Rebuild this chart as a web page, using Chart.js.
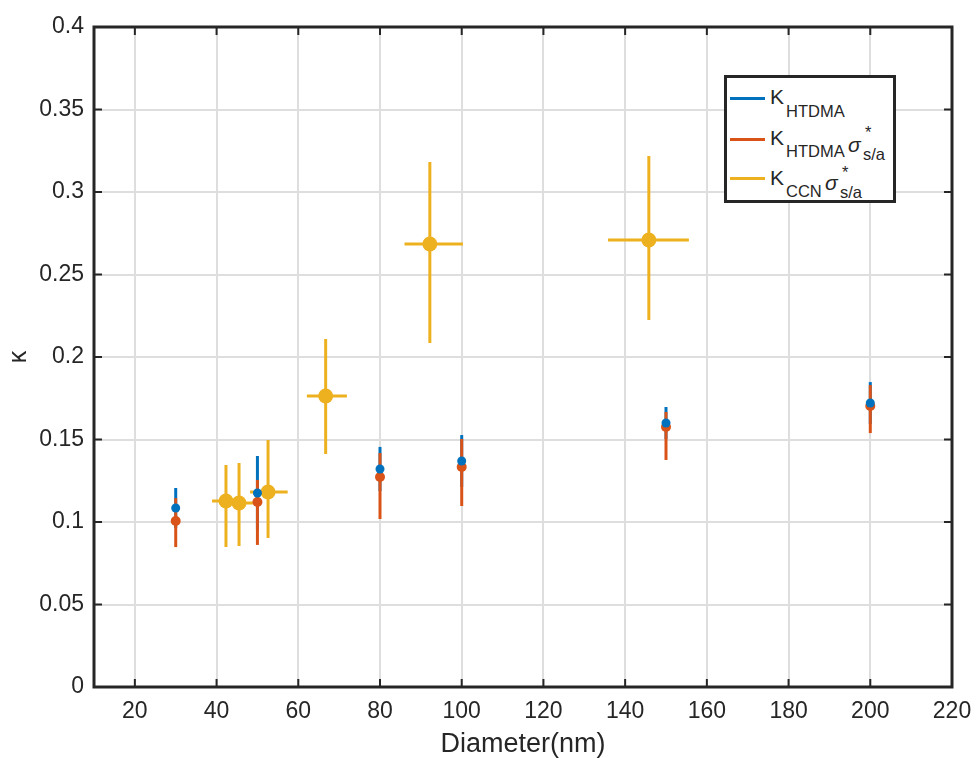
<!DOCTYPE html>
<html>
<head>
<meta charset="utf-8">
<script src="https://cdn.jsdelivr.net/npm/chart.js@4.4.0/dist/chart.umd.min.js"></script>
<style>
    html, body { margin: 0; padding: 0; background: #fff; }
    #wrap { position: relative; width: 976px; height: 758px; font-family: "Liberation Sans", Arial, sans-serif; color: #262626; }
    #legend-box { position: absolute; left: 724px; top: 75px; width: 172px; height: 128px; box-sizing: border-box; border: 3px solid #262626; background: #fff; }
    .lg { position: absolute; line-height: 1; white-space: nowrap; }
    .big { font-size: 21px; }
    .small { font-size: 16.5px; }
    .it { font-style: italic; }
    .swatch { position: absolute; left: 730px; width: 35px; height: 3px; }
</style>
</head>
<body>
<div id="wrap">
    <canvas id="chart" width="976" height="758"></canvas>
    <div id="legend-box"></div>
    <div class="swatch" style="top:97px;background:#0072BD"></div>
    <div class="swatch" style="top:138px;background:#D95319"></div>
    <div class="swatch" style="top:177px;background:#EDB120"></div>

    <span class="lg big" style="left:770px;top:86px">K</span>
    <span class="lg small" style="left:786px;top:103px">HTDMA</span>

    <span class="lg big" style="left:770px;top:127px">K</span>
    <span class="lg small" style="left:786px;top:143px">HTDMA</span>
    <span class="lg big it" style="left:848px;top:134px">σ</span>
    <span class="lg small" style="left:865px;top:124px">*</span>
    <span class="lg small" style="left:863px;top:146px">s/a</span>

    <span class="lg big" style="left:770px;top:167px">K</span>
    <span class="lg small" style="left:786px;top:183px">CCN</span>
    <span class="lg big it" style="left:825px;top:172px">σ</span>
    <span class="lg small" style="left:842px;top:164px">*</span>
    <span class="lg small" style="left:840px;top:184px">s/a</span>
</div>
<script>
// diameters (nm) of the HTDMA measurements
const diameters = [30, 50, 80, 100, 150, 200]

// K_HTDMA
const kHtdma = [0.1085, 0.1176, 0.1321, 0.1370, 0.1600, 0.1721]
const kHtdmaHigh = [0.1206, 0.1400, 0.1455, 0.1527, 0.1697, 0.1848]
const kHtdmaLow = [0.0964, 0.0952, 0.1187, 0.1213, 0.1503, 0.1594]

// K_HTDMA sigma*
const kSigma = [0.1006, 0.1121, 0.1273, 0.1333, 0.1576, 0.1703]
const kSigmaHigh = [0.1145, 0.1255, 0.1418, 0.1503, 0.1667, 0.1830]
const kSigmaLow = [0.0848, 0.0861, 0.1018, 0.1097, 0.1376, 0.1539]

// K_CCN sigma*
const ccnDiam = [42.3, 45.5, 52.6, 66.7, 92.2, 145.8]
const ccnDiamLow = [38.9, 42.1, 48.2, 62.1, 86.0, 135.8]
const ccnDiamHigh = [45.7, 48.9, 57.4, 71.9, 100.3, 155.6]
const kCcn = [0.1127, 0.1115, 0.1182, 0.1764, 0.2685, 0.2709]
const kCcnHigh = [0.1345, 0.1358, 0.1497, 0.2109, 0.3182, 0.3218]
const kCcnLow = [0.0848, 0.0855, 0.0903, 0.1412, 0.2085, 0.2224]

const xTicks = [20, 40, 60, 80, 100, 120, 140, 160, 180, 200, 220]
const yTicks = [0, 0.05, 0.1, 0.15, 0.2, 0.25, 0.3, 0.35, 0.4]
const yTickLabels = ["0", "0.05", "0.1", "0.15", "0.2", "0.25", "0.3", "0.35", "0.4"]

const axisColor = "#262626"
const fontFamily = "'Liberation Sans', Arial, sans-serif"

const toPoints = (xs, ys) => xs.map((x, i) => ({ x: x, y: ys[i] }))

// vertical / horizontal error bars, drawn under the markers
const errorBars = {
    id: "errorBars",
    beforeDatasetsDraw(chart) {
        const ctx = chart.ctx
        const xs = chart.scales.x
        const ys = chart.scales.y
        ctx.save()
        chart.data.datasets.forEach(ds => {
            ctx.strokeStyle = ds.backgroundColor
            ctx.lineWidth = 3
            ctx.lineCap = "butt"
            ds.data.forEach((p, i) => {
                const px = xs.getPixelForValue(p.x)
                const py = ys.getPixelForValue(p.y)
                ctx.beginPath()
                ctx.moveTo(px, ys.getPixelForValue(ds.errLow[i]))
                ctx.lineTo(px, ys.getPixelForValue(ds.errHigh[i]))
                if (ds.xLow) {
                    ctx.moveTo(xs.getPixelForValue(ds.xLow[i]), py)
                    ctx.lineTo(xs.getPixelForValue(ds.xHigh[i]), py)
                }
                ctx.stroke()
            })
        })
        ctx.restore()
    }
}

// matlab style box with inward ticks
const axesBox = {
    id: "axesBox",
    afterDraw(chart) {
        const ctx = chart.ctx
        const a = chart.chartArea
        const tl = 8
        ctx.save()
        ctx.strokeStyle = axisColor
        ctx.lineWidth = 2
        ctx.beginPath()
        chart.scales.x.ticks.forEach(t => {
            const px = chart.scales.x.getPixelForValue(t.value)
            ctx.moveTo(px, a.bottom)
            ctx.lineTo(px, a.bottom - tl)
            ctx.moveTo(px, a.top)
            ctx.lineTo(px, a.top + tl)
        })
        chart.scales.y.ticks.forEach(t => {
            const py = chart.scales.y.getPixelForValue(t.value)
            ctx.moveTo(a.left, py)
            ctx.lineTo(a.left + tl, py)
            ctx.moveTo(a.right, py)
            ctx.lineTo(a.right - tl, py)
        })
        ctx.stroke()
        ctx.lineWidth = 3
        ctx.strokeRect(a.left, a.top, a.right - a.left, a.bottom - a.top)
        ctx.restore()
    }
}

new Chart("chart", {
    type: "scatter",
    data: {
        datasets: [{
            label: "K HTDMA",
            data: toPoints(diameters, kHtdma),
            errLow: kHtdmaLow,
            errHigh: kHtdmaHigh,
            backgroundColor: "#0072BD",
            borderWidth: 0,
            pointRadius: 4.5
        },
        {
            label: "K HTDMA sigma*",
            data: toPoints(diameters, kSigma),
            errLow: kSigmaLow,
            errHigh: kSigmaHigh,
            backgroundColor: "#D95319",
            borderWidth: 0,
            pointRadius: 5
        },
        {
            label: "K CCN sigma*",
            data: toPoints(ccnDiam, kCcn),
            errLow: kCcnLow,
            errHigh: kCcnHigh,
            xLow: ccnDiamLow,
            xHigh: ccnDiamHigh,
            backgroundColor: "#EDB120",
            borderWidth: 0,
            pointRadius: 7.5
        }]
    },
    options: {
        responsive: false,
        animation: false,
        layout: { padding: { top: 27, right: 24, left: 0, bottom: 0 } },
        plugins: {
            legend: { display: false },
            tooltip: { enabled: false }
        },
        scales: {
            x: {
                type: "linear",
                min: 10,
                max: 220,
                afterBuildTicks: scale => { scale.ticks = xTicks.map(v => ({ value: v })) },
                afterFit: scale => {
                    scale.height = 71
                    scale.paddingLeft = 0
                    scale.paddingRight = 0
                },
                grid: { color: "#dedede", lineWidth: 2, drawTicks: false },
                border: { display: false },
                ticks: {
                    padding: 11,
                    color: axisColor,
                    font: { family: fontFamily, size: 23 },
                    maxRotation: 0,
                    callback: v => String(v)
                },
                title: {
                    display: true,
                    text: "Diameter(nm)",
                    color: axisColor,
                    font: { family: fontFamily, size: 27, lineHeight: 1 },
                    padding: { top: 0, bottom: 0 }
                }
            },
            y: {
                type: "linear",
                min: 0,
                max: 0.4,
                afterBuildTicks: scale => { scale.ticks = yTicks.map(v => ({ value: v })) },
                afterFit: scale => {
                    scale.width = 94
                    scale.paddingTop = 0
                    scale.paddingBottom = 0
                },
                grid: { color: "#dedede", lineWidth: 2, drawTicks: false },
                border: { display: false },
                ticks: {
                    padding: 10,
                    color: axisColor,
                    font: { family: fontFamily, size: 23 },
                    callback: (v, i) => yTickLabels[i]
                },
                title: {
                    display: true,
                    text: "κ",
                    color: axisColor,
                    font: { family: fontFamily, size: 25, lineHeight: 1 },
                    padding: { top: 7, bottom: 0 }
                }
            }
        }
    },
    plugins: [errorBars, axesBox]
})
</script>
</body>
</html>
